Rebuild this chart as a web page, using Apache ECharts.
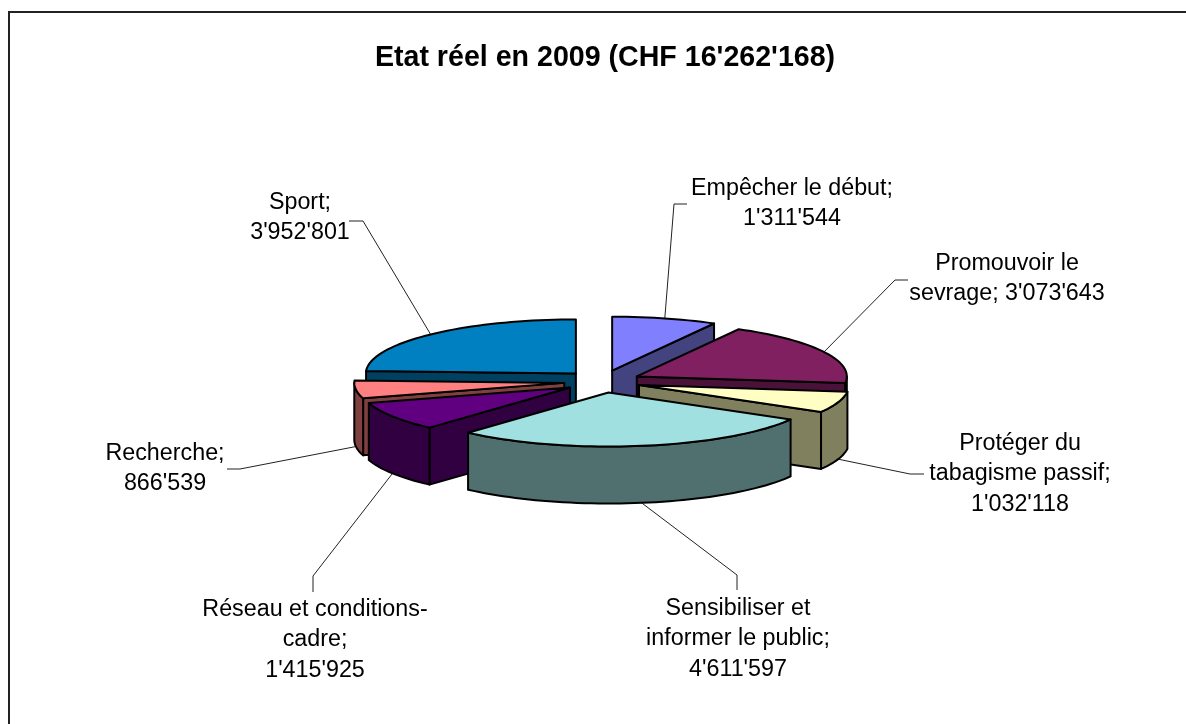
<!DOCTYPE html>
<html>
<head>
<meta charset="utf-8">
<title>Etat réel en 2009</title>
<style>
    html, body { margin: 0; padding: 0; background: #fff; }
    #chart { width: 1186px; height: 724px; }
</style>
<script src="https://cdn.jsdelivr.net/npm/echarts@6/dist/echarts.min.js"></script>
</head>
<body>
<div id="chart"></div>
<script>
const chartTitle = "Etat réel en 2009 (CHF 16'262'168)"
const categories = ['Empêcher le début;', 'Promouvoir le\nsevrage;', 'Protéger du\ntabagisme passif;', 'Sensibiliser et\ninformer le public;', 'Réseau et conditions-\ncadre;', 'Recherche;', 'Sport;']
const sliceValues = [1311544, 3073643, 1032118, 4611597, 1415925, 866539, 3952801]
const topColors = ['#8080ff', '#802060', '#ffffc4', '#a0e0e0', '#600080', '#ff8080', '#0080c0']
const sideColors = ['#434380', '#4a1238', '#80805f', '#507070', '#300040', '#804040', '#004060']
// back to front
const drawOrder = [0, 6, 1, 5, 2, 4, 3]

// pie projection
const pie = { cx: 602.5, cy: 381.5, rx: 210, ry: 54, depth: 57, explode: 38.5, explodeTilt: 0.29 }
// label centre and leader elbows, same order as categories
const labelLayout = [
    { x: 792, y: 188, sameLine: false, leader: [[674, 204], [687, 204]] },
    { x: 1007, y: 263, sameLine: true, leader: [[895, 280], [908, 280]] },
    { x: 1020, y: 443, sameLine: false, leader: [[910, 474], [924, 474]] },
    { x: 738, y: 608, sameLine: false, leader: [[737, 575], [737, 590]] },
    { x: 315, y: 609, sameLine: false, leader: [[313, 576], [313, 592]] },
    { x: 165, y: 453, sameLine: false, leader: [[240, 469], [227, 469]] },
    { x: 300, y: 202, sameLine: false, leader: [[363, 221], [349, 221]] },
]

const total = sliceValues.reduce((a, b) => a + b, 0)
const toAngle = (v) => echarts.number.linearMap(v, [0, total], [0, 360])

function fmt(v) {
    return String(v).replace(/\B(?=(\d{3})+$)/g, "'")
}

function rad(deg) {
    return (deg * Math.PI) / 180
}

// point on the pie for a clockwise angle from 12 o'clock
function project(c, deg, r) {
    return [c[0] + pie.rx * r * Math.sin(rad(deg)), c[1] - pie.ry * r * Math.cos(rad(deg))]
}

function apexOf(mid) {
    return [pie.cx + pie.explode * Math.sin(rad(mid)), pie.cy - pie.explode * pie.explodeTilt * Math.cos(rad(mid))]
}

function arc(c, a0, a1, dy) {
    let pts = []
    let n = Math.max(2, Math.ceil((a1 - a0) / 2))
    for (let i = 0; i <= n; i++) {
        let p = project(c, a0 + ((a1 - a0) * i) / n, 1)
        pts.push([p[0], p[1] + dy])
    }
    return pts
}

function face(points, fill) {
    return {
        type: 'polygon',
        shape: { points: points },
        style: { fill: fill, stroke: '#000', lineWidth: 2, lineJoin: 'round' },
    }
}

function renderSlice(params, api) {
    let idx = api.value(0)
    let before = sliceValues.slice(0, idx).reduce((a, b) => a + b, 0)
    let a0 = toAngle(before)
    let a1 = toAngle(before + sliceValues[idx])
    let apex = apexOf((a0 + a1) / 2)
    let d = pie.depth
    let side = sideColors[idx]
    let children = []

    // cut faces, only those turned to the viewer
    let cut = (deg) => {
        let p = project(apex, deg, 1)
        return face([apex, p, [p[0], p[1] + d], [apex[0], apex[1] + d]], side)
    }
    if (Math.sin(rad(a0)) < 0) children.push(cut(a0))
    if (Math.sin(rad(a1)) > 0) children.push(cut(a1))
    // rim
    let r0 = Math.max(a0, 90)
    let r1 = Math.min(a1, 270)
    if (r1 > r0) {
        children.push(face(arc(apex, r0, r1, 0).concat(arc(apex, r0, r1, d).reverse()), side))
    }
    // top
    children.push(face([apex].concat(arc(apex, a0, a1, 0)), topColors[idx]))
    return { type: 'group', children: children }
}

function renderLabel(params, api) {
    let idx = api.value(0)
    let before = sliceValues.slice(0, idx).reduce((a, b) => a + b, 0)
    let mid = toAngle(before + sliceValues[idx] / 2)
    let start = project(apexOf(mid), mid, 1)
    if (Math.cos(rad(mid)) < 0) start[1] += pie.depth
    let lay = labelLayout[idx]
    let text = categories[idx] + (lay.sameLine ? ' ' : '\n') + fmt(sliceValues[idx])
    return {
        type: 'group',
        children: [
            {
                type: 'polyline',
                shape: { points: [start].concat(lay.leader) },
                style: { fill: 'none', stroke: '#222', lineWidth: 1 },
            },
            {
                type: 'text',
                style: {
                    text: text,
                    x: lay.x,
                    y: lay.y - 15,
                    align: 'center',
                    verticalAlign: 'top',
                    font: '23.3px "Liberation Sans", Arial, sans-serif',
                    lineHeight: 30.5,
                    fill: '#000',
                },
            },
        ],
    }
}

const chart = echarts.init(document.getElementById('chart'), null, { renderer: 'canvas' })
chart.setOption({
    animation: false,
    backgroundColor: '#fff',
    title: {
        text: chartTitle,
        left: 600,
        top: 39,
        textAlign: 'center',
        textStyle: { fontFamily: '"Liberation Sans", Arial, sans-serif', fontSize: 28.6, fontWeight: 'bold', color: '#000' },
    },
    graphic: [
        {
            type: 'polyline',
            shape: { points: [[9, 724], [9, 12], [1186, 12]] },
            style: { fill: 'none', stroke: '#222', lineWidth: 2 },
        },
    ],
    series: [
        { type: 'custom', coordinateSystem: 'none', silent: true, z: 3, renderItem: renderSlice, data: drawOrder.map((i) => [i]) },
        { type: 'custom', coordinateSystem: 'none', silent: true, z: 2, renderItem: renderLabel, data: drawOrder.map((i) => [i]) },
    ],
})
</script>
</body>
</html>
